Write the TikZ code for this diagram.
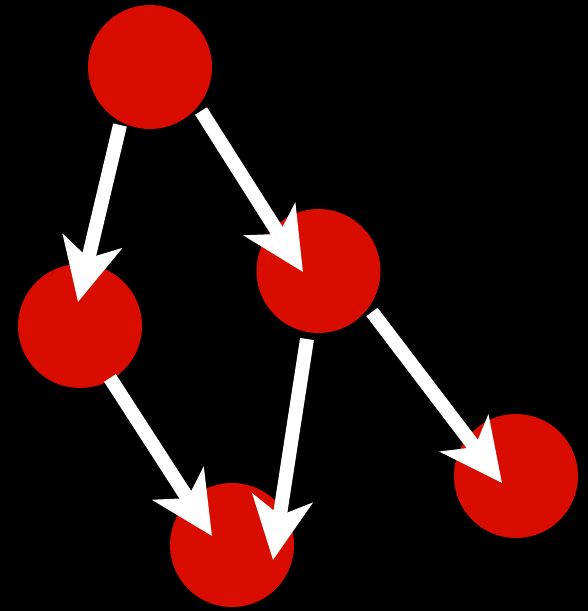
\documentclass[tikz,border=0pt]{standalone}
\usetikzlibrary{arrows.meta,calc}
\definecolor{nodered}{RGB}{217,12,0}
\begin{document}
\begin{tikzpicture}[x=1pt,y=-1pt,
  ball/.style={circle,fill=nodered,minimum size=124pt,inner sep=0pt},
  arr/.style={white,line width=14pt,-{Stealth[length=62pt,width=60pt,inset=17pt]}}]
\fill[black] (0,0) rectangle (588,611);
\useasboundingbox (0,0) rectangle (588,611);
\node[ball] (A) at (150,67) {};
\node[ball] (B) at (80,326) {};
\node[ball] (C) at (318.5,271) {};
\node[ball] (D) at (232,545) {};
\node[ball] (E) at (516,476) {};
\draw[arr] ($(A)+(-30,58)$) -- ($(B)+(-2,-24)$);
\draw[arr] ($(A)+(51,44)$) -- ($(C)+(-15.5,1)$);
\draw[arr] ($(C)+(53.5,41)$) -- ($(E)+(-14,7)$);
\draw[arr] ($(C)+(-11.5,68)$) -- ($(D)+(41,15)$);
\draw[arr] ($(B)+(30,52)$) -- ($(D)+(-20,-9)$);
\end{tikzpicture}
\end{document}
